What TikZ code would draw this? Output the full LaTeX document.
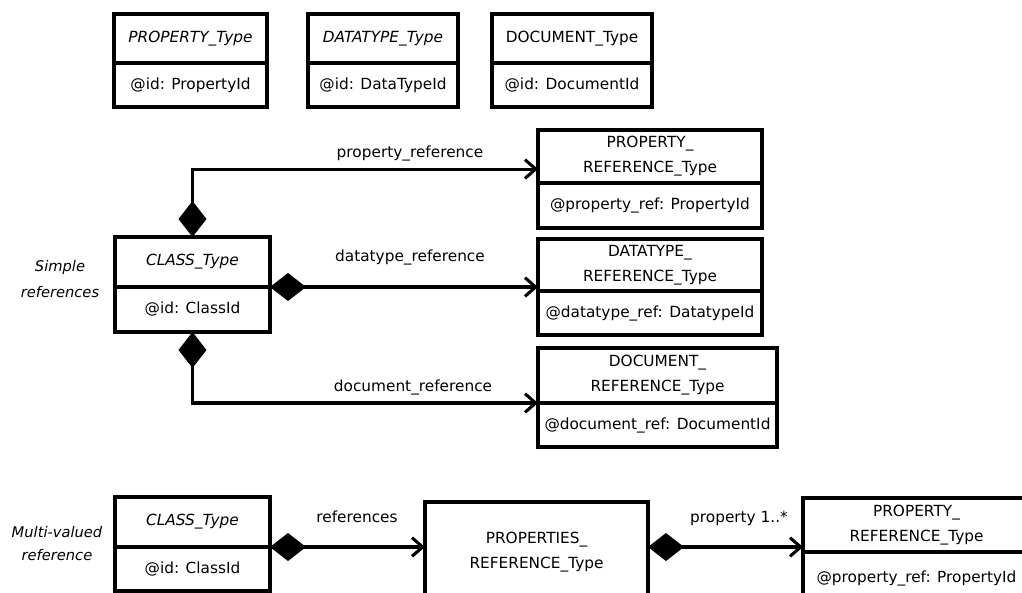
\documentclass[tikz,border=0pt]{standalone}
\usepackage{fontspec}
\setmainfont{DejaVu Sans}
\usetikzlibrary{arrows.meta}

\tikzset{
  box/.style={draw, line width=2.6pt, outer sep=0pt, inner sep=0pt, align=center, font=\fontsize{11.5}{18.75}\selectfont},
  head/.style={box, anchor=south},
  attr/.style={box, anchor=north},
  lbl/.style={inner sep=0pt, font=\fontsize{11.5}{13}\selectfont},
  side/.style={inner sep=0pt, align=center, font=\fontsize{11}{20}\selectfont\itshape},
  comp/.style={line width=2.3pt, {Diamond[length=27pt,width=21pt]}-{Straight Barb[length=8pt,width=14pt]}},
}

\begin{document}
\begin{tikzpicture}[x=0.75pt,y=0.75pt,yscale=-1,xscale=1]
\useasboundingbox (0,0) rectangle (1022,593);
% Top row: id types
\node[head, minimum width=114.75pt, minimum height=36.75pt] (propT) at (190.5,63) {\itshape PROPERTY\_Type};
\node[attr, minimum width=114.75pt, minimum height=33pt] (propA) at (190.5,63) {@id: PropertyId};
\node[head, minimum width=112.5pt, minimum height=36.75pt] (dataT) at (383,63) {\itshape DATATYPE\_Type};
\node[attr, minimum width=112.5pt, minimum height=33pt] (dataA) at (383,63) {@id: DataTypeId};
\node[head, minimum width=120pt, minimum height=36.75pt] (docuT) at (572,63) {DOCUMENT\_Type};
\node[attr, minimum width=120pt, minimum height=33pt] (docuA) at (572,63) {@id: DocumentId};
% Simple references
\node[side] (simple) at (60,279) {Simple\\references};
\node[head, minimum width=116.25pt, minimum height=37.5pt] (clsT) at (192.5,287) {\itshape CLASS\_Type};
\node[attr, minimum width=116.25pt, minimum height=33.75pt] (clsA) at (192.5,287) {@id: ClassId};
\node[head, minimum width=168pt, minimum height=39.75pt] (prefT) at (650,183) {PROPERTY\_\\REFERENCE\_Type};
\node[attr, minimum width=168pt, minimum height=33.75pt] (prefA) at (650,183) {@property\_ref: PropertyId};
\node[head, minimum width=168pt, minimum height=39pt] (drefT) at (650,291) {DATATYPE\_\\REFERENCE\_Type};
\node[attr, minimum width=168pt, minimum height=33pt] (drefA) at (650,291) {@datatype\_ref: DatatypeId};
\node[head, minimum width=179.25pt, minimum height=41.25pt] (docT) at (657.5,403) {DOCUMENT\_\\REFERENCE\_Type};
\node[attr, minimum width=179.25pt, minimum height=33pt] (docA) at (657.5,403) {@document\_ref: DocumentId};
\draw[comp] (clsT.north) |- ([yshift=9.4pt]prefT.west);
\draw[comp] (clsT.south east) -- (clsT.south east -| drefT.west);
\draw[comp] (clsA.south) |- (docT.south west);
\node[lbl] (plbl) at (410,153) {property\_reference};
\node[lbl] (dlbl) at (410,257) {datatype\_reference};
\node[lbl] (clbl) at (413,387) {document\_reference};
% Multi-valued reference
\node[side, font=\fontsize{11}{17.25}\selectfont\itshape] (multi) at (57,544) {Multi-valued\\reference};
\node[head, minimum width=116.25pt, minimum height=37.5pt] (mclsT) at (192.5,547) {\itshape CLASS\_Type};
\node[attr, minimum width=116.25pt, minimum height=33pt] (mclsA) at (192.5,547) {@id: ClassId};
\node[box, minimum width=167.25pt, minimum height=75pt] (props) at (536.5,552) {PROPERTIES\_\\REFERENCE\_Type};
\node[head, minimum width=170.25pt, minimum height=40.5pt] (mprefT) at (916.5,552) {PROPERTY\_\\REFERENCE\_Type};
\node[attr, minimum width=170.25pt, minimum height=39.75pt] (mprefA) at (916.5,552) {@property\_ref: PropertyId};
\draw[comp] (mclsT.south east) -- (mclsT.south east -| props.west);
\draw[comp] ([yshift=-3.75pt]props.east) -- ([yshift=-3.75pt]props.east -| mprefT.west);
\node[lbl] (rlbl) at (357,517) {references};
\node[lbl] (mlbl) at (739,518) {property 1..*};
\end{tikzpicture}
\end{document}
